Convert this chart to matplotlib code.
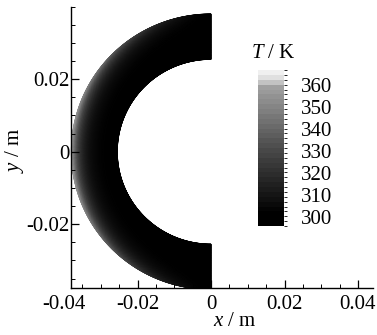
import numpy as np
import matplotlib
matplotlib.use("Agg")
import matplotlib.pyplot as plt
from matplotlib.colors import LinearSegmentedColormap, Normalize, BoundaryNorm
from matplotlib.cm import ScalarMappable

plt.rcParams["font.family"] = "Liberation Serif"
plt.rcParams["mathtext.fontset"] = "custom"
plt.rcParams["mathtext.rm"] = "Liberation Serif"
plt.rcParams["mathtext.it"] = "Liberation Serif:italic"

# Geometry of the half ring (m)
r_inner = 0.0255
r_outer = 0.038

# Temperature field parameters (K, m)
t_ambient = 300.0
t_rise = 58.0
skin_depth = 0.0024

# Contour range and colour-bar ticks
t_min, t_max = 296.0, 367.0
cbar_ticks = [300, 310, 320, 330, 340, 350, 360]
x_ticks = [-0.04, -0.02, 0, 0.02, 0.04]
y_ticks = [-0.02, 0, 0.02]
x_tick_labels = ["-0.04", "-0.02", "0", "0.02", "0.04"]
y_tick_labels = ["-0.02", "0", "0.02"]

# Polar grid over the left half of the ring
r = np.linspace(r_inner, r_outer, 200)
theta = np.linspace(np.pi / 2, 3 * np.pi / 2, 500)
R, TH = np.meshgrid(r, theta)
X = R * np.cos(TH)
Y = R * np.sin(TH)
phi = TH - np.pi  # angle measured from the -x direction
weight = np.clip(np.cos(phi), 0, None) ** 1.4
T = t_ambient + t_rise * np.exp(-(r_outer - R) / skin_depth) * weight


def frac(t):
    return (t - t_min) / (t_max - t_min)


cmap = LinearSegmentedColormap.from_list(
    "tecgray",
    [(0.0, (0.0, 0.0, 0.0)),
     (frac(301), (0.0, 0.0, 0.0)),
     (frac(330), (0.28, 0.28, 0.28)),
     (frac(361), (0.64, 0.64, 0.64)),
     (frac(363), (0.84, 0.84, 0.84)),
     (1.0, (0.94, 0.94, 0.94))],
)
norm = Normalize(t_min, t_max)

fig = plt.figure(figsize=(3.77, 3.35), dpi=100)

# x: 0 at px 211, 3675 px/m ; y: 0 at px 148, 3725 px/m
x_lo, x_hi = -0.041, 0.0441
y_lo, y_hi = -0.0376, 0.0379
ax_left = (211 + x_lo * 3675) / 377
ax_w = (x_hi - x_lo) * 3675 / 377
ax_bottom = (335 - 288) / 335
ax_h = (y_hi - y_lo) * 3725 / 335
ax = fig.add_axes([ax_left, ax_bottom, ax_w, ax_h])

ax.pcolormesh(X, Y, T, cmap=cmap, norm=norm, shading="gouraud")

ax.set_xlim(x_lo, x_hi)
ax.set_ylim(y_lo, y_hi)
ax.spines["top"].set_visible(False)
ax.spines["right"].set_visible(False)
ax.spines["left"].set_position(("data", -r_outer))
ax.spines["bottom"].set_bounds(-r_outer, x_hi)
for s in ("left", "bottom"):
    ax.spines[s].set_linewidth(1.0)

ax.set_xticks(x_ticks)
ax.set_xticklabels(x_tick_labels)
ax.set_yticks(y_ticks)
ax.set_yticklabels(y_tick_labels)
ax.set_xticks(np.arange(-0.035, 0.045, 0.005), minor=True)
ax.set_yticks(np.arange(-0.035, 0.04, 0.005), minor=True)
ax.tick_params(which="major", direction="in", length=6, width=0.9,
               labelsize=15)
ax.tick_params(axis="x", which="major", pad=5)
ax.tick_params(axis="y", which="major", pad=1.5)
ax.tick_params(which="minor", direction="in", length=3, width=0.7)
# the -0.04 label sits just left of the frame, without a tick mark
ax.xaxis.get_major_ticks()[0].tick1line.set_visible(False)

fig.text(235 / 377, 1 - 322 / 335, r"$x$ / m", fontsize=15,
         ha="center", va="center")
fig.text(15 / 377, 1 - 150 / 335, r"$y$ / m", fontsize=15,
         ha="center", va="center", rotation=90)

# Banded colour legend
levels = np.linspace(t_min, t_max, 33)
band_norm = BoundaryNorm(levels, cmap.N)
cax = fig.add_axes([258 / 377, 1 - 226 / 335, 26 / 377, 156 / 335])
cb = fig.colorbar(ScalarMappable(norm=band_norm, cmap=cmap), cax=cax,
                  ticks=cbar_ticks, boundaries=levels)
cb.outline.set_visible(False)
cb.ax.tick_params(length=0, labelsize=15, pad=12)
fig.text(273 / 377, 1 - 54 / 335, r"$T$ / K", fontsize=15,
         ha="center", va="center")

fig.savefig("out.png", dpi=100)
